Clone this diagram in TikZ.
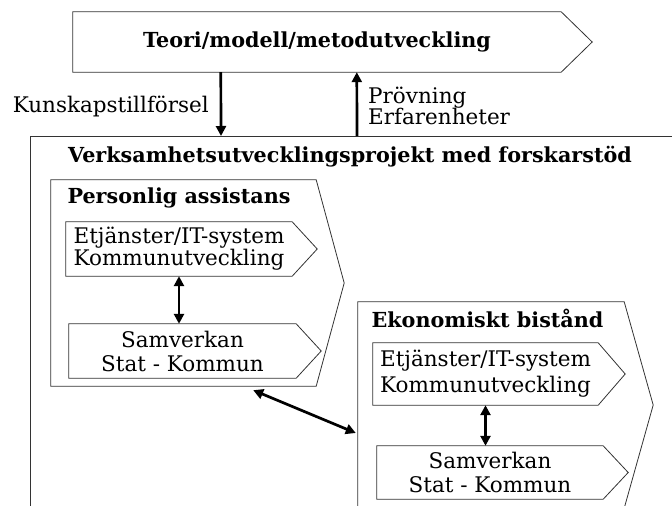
\documentclass[tikz,border=0pt]{standalone}
\usepackage{fontspec}
\setmainfont{DejaVu Serif}
\usetikzlibrary{arrows.meta}

\newcommand\brodtext{\fontsize{21.5}{24}\selectfont}
\newcommand\rubrikfont{\fontsize{20.7}{24}\selectfont\bfseries}

\tikzset{
  kant/.style={draw=black!80, line width=0.8pt},
  pil/.style={rectangle, inner sep=0pt, align=center, font=\brodtext,
    append after command={\pgfextra{\draw[kant] (\tikzlastnode.north west) -- (\tikzlastnode.north east)
      -- ([xshift=#1pt]\tikzlastnode.east) -- (\tikzlastnode.south east) -- (\tikzlastnode.south west) -- cycle;}}},
  rubrik/.style={font=\rubrikfont, inner sep=0pt},
  etikett/.style={font=\brodtext, inner sep=0pt, align=left},
  pilar/.style={line width=2.7pt, >={Triangle[length=10pt,width=10pt]}}
}

\begin{document}
\begin{tikzpicture}[x=1pt, y=-1pt]
    \clip (0,0) rectangle (672,506);

    % Teori overst
    \node [pil=31, minimum width=488, minimum height=60, font=\rubrikfont] (teori) at (317,42) {Teori/modell/metodutveckling};

    % Projektet
    \node [kant, rectangle, anchor=north west, minimum width=700, minimum height=420] (projekt) at (30,136) {};
    \node [rubrik] (projekttitel) at (350,157) {Verksamhetsutvecklingsprojekt med forskarstöd};

    % Personlig assistans
    \node [pil=28, minimum width=265, minimum height=206] (assistans) at (183.5,283) {};
    \node [rubrik] (assistanstitel) at (179,198) {Personlig assistans};
    \node [pil=25, minimum width=226, minimum height=54] (assEtj) at (179,249) {Etjänster/IT-system\\[-2pt]Kommunutveckling};
    \node [pil=25, minimum width=227, minimum height=54] (assSam) at (182.5,351) {Samverkan\\Stat - Kommun};

    % Ekonomiskt bistand
    \node [pil=29, minimum width=266, minimum height=206] (bistand) at (491,405) {};
    \node [rubrik] (bistandtitel) at (487.5,318) {Ekonomiskt bistånd};
    \node [pil=27, minimum width=225, minimum height=62] (bisEtj) at (485.5,374) {Etjänster/IT-system\\[2pt]Kommunutveckling};
    \node [pil=25, minimum width=226, minimum height=53] (bisSam) at (490,472.5) {Samverkan\\Stat - Kommun};

    % Etiketter
    \node [etikett, anchor=east] (kunskap) at (209,106) {Kunskapstillförsel};
    \node [etikett, anchor=west] (provning) at (368,106) {Prövning\\[-3pt]Erfarenheter};

    % Pilar
    \draw [pilar, ->] ([xshift=148pt]teori.south west) -- ([xshift=191pt]projekt.north west);
    \draw [pilar, ->] ([xshift=327pt]projekt.north west) -- ([xshift=284pt]teori.south west);
    \draw [pilar, <->] (assEtj.south) -- (assEtj.south |- assSam.north);
    \draw [pilar, <->] (bisEtj.south) -- (bisEtj.south |- bisSam.north);
    \draw [pilar, <->] ([xshift=-63pt, yshift=-4pt]assistans.south east) -- ([xshift=-2pt, yshift=-28pt]bistand.west);

\end{tikzpicture}
\end{document}
